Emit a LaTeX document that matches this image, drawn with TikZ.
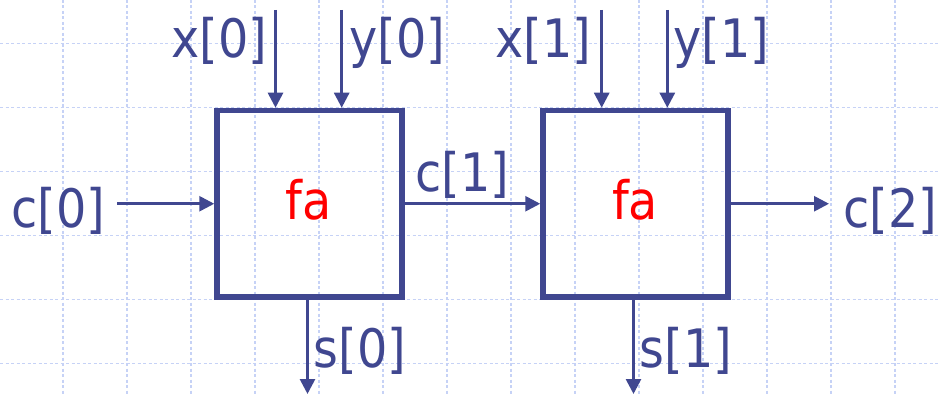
\documentclass[tikz,border=0pt]{standalone}
\usepackage{fontspec}
\newfontfamily\labfont{DejaVu Sans Condensed}
\usetikzlibrary{arrows.meta}
\definecolor{wire}{RGB}{64,71,144}
\definecolor{gridc}{RGB}{198,210,246}
\tikzset{
  gridline/.style={draw=gridc, line width=1.3pt, dash pattern=on 3pt off 2.5pt},
  fabox/.style={draw=wire, line width=5.5pt, minimum width=185pt, minimum height=186.5pt, inner sep=0pt},
  wirearrow/.style={draw=wire, line width=2.7pt, -{Triangle[length=15pt,width=15pt]}},
  lab/.style={text=wire, inner sep=0pt, anchor=base west, font=\labfont\fontsize{53}{57}\selectfont},
  falab/.style={text=red, inner sep=0pt, anchor=base, font=\labfont\fontsize{53}{57}\selectfont}
}
\begin{document}
\begin{tikzpicture}[x=1pt,y=-1pt]
\useasboundingbox (0,0) rectangle (939,395);
\fill[white] (0,0) rectangle (939,395);
% background grid
\foreach \i in {0,...,13} \draw[gridline] ({63+64*\i},0) -- ({63+64*\i},395);
\foreach \j in {0,...,5} \draw[gridline] (0,{43.5+64*\j}) -- (939,{43.5+64*\j});
% boxes
\node[fabox] (b1) at (309.5,203.75) {};
\node[fabox] (b2) at (635.5,203.75) {};
\node[falab] (fa1) at (308.5,220) {fa};
\node[falab] (fa2) at (635,220) {fa};
% free ends
\coordinate (x0s) at (275.5,10);
\coordinate (y0s) at (341.7,10);
\coordinate (x1s) at (601.7,10);
\coordinate (y1s) at (667.3,10);
\coordinate (c0s) at (117,203.75);
\coordinate (c2e) at (829,203.75);
\coordinate (s0e) at (307.5,394);
\coordinate (s1e) at (633.5,394);
% connectors
\draw[wirearrow] (x0s) -- (x0s |- b1.north);
\draw[wirearrow] (y0s) -- (y0s |- b1.north);
\draw[wirearrow] (x1s) -- (x1s |- b2.north);
\draw[wirearrow] (y1s) -- (y1s |- b2.north);
\draw[wirearrow] (c0s) -- (b1.west);
\draw[wirearrow] (b1.east) -- (b2.west);
\draw[wirearrow] (b2.east) -- (c2e);
\draw[wirearrow] (s0e |- b1.south) -- (s0e);
\draw[wirearrow] (s1e |- b2.south) -- (s1e);
% labels
\node[lab] (lx0) at (171,58) {x[0]};
\node[lab] (ly0) at (349.5,58) {y[0]};
\node[lab] (lx1) at (495.5,58) {x[1]};
\node[lab] (ly1) at (673.5,58) {y[1]};
\node[lab] (lc0) at (11,227.5) {c[0]};
\node[lab] (lc1) at (415,191.5) {c[1]};
\node[lab] (lc2) at (843,227.5) {c[2]};
\node[lab] (ls0) at (313.5,367.5) {s[0]};
\node[lab] (ls1) at (639.5,367.5) {s[1]};
\end{tikzpicture}
\end{document}
